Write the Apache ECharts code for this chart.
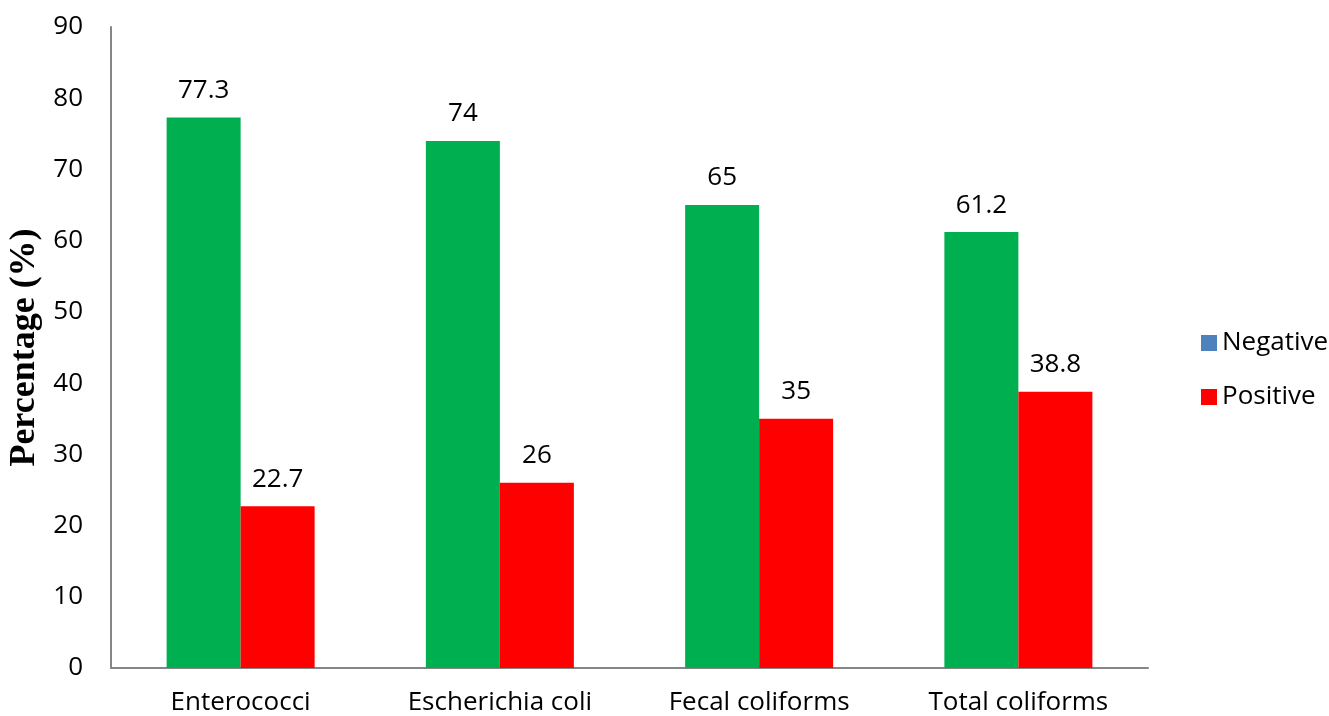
<!DOCTYPE html>
<html>
<head>
<meta charset="utf-8">
<script src="https://cdn.jsdelivr.net/npm/echarts@6/dist/echarts.min.js"></script>
<style>html,body{margin:0;padding:0;background:#fff}#c{width:1329px;height:716px}</style>
</head>
<body>
<div id="c"></div>
<script>
const categories = ['Enterococci', 'Escherichia coli', 'Fecal coliforms', 'Total coliforms'];
const negativeValues = [77.3, 74, 65, 61.2];
const positiveValues = [22.7, 26, 35, 38.8];
const yTicks = [0, 10, 20, 30, 40, 50, 60, 70, 80, 90];

const chart = echarts.init(document.getElementById('c'));
const font = '"Open Sans", "Noto Sans", sans-serif';
chart.setOption({
  animation: false,
  grid: { left: 111, right: 181, top: 27, bottom: 48, containLabel: false, outerBoundsMode: 'none' },
  legend: {
    orient: 'vertical',
    left: 1196,
    top: 325,
    itemWidth: 16,
    itemHeight: 16,
    itemGap: 28,
    icon: 'rect',
    textStyle: { fontFamily: font, fontSize: 26, color: '#000' },
    data: [
      { name: 'Negative', itemStyle: { color: '#4F81BD' } },
      { name: 'Positive', itemStyle: { color: '#FF0000' } }
    ]
  },
  xAxis: {
    type: 'category',
    data: categories,
    axisLine: { lineStyle: { color: '#868686', width: 2 } },
    axisTick: { show: false },
    axisLabel: { fontFamily: font, fontSize: 26, color: '#000', margin: 22 }
  },
  yAxis: {
    type: 'value',
    min: yTicks[0],
    max: yTicks[yTicks.length - 1],
    interval: 10,
    name: 'Percentage (%)',
    nameLocation: 'middle',
    nameGap: 63,
    nameRotate: 90,
    nameTextStyle: { fontFamily: '"Liberation Serif", serif', fontWeight: 'bold', fontSize: 36, color: '#000' },
    axisLine: { show: true, lineStyle: { color: '#868686', width: 2 } },
    axisTick: { show: false },
    splitLine: { show: false },
    axisLabel: { fontFamily: font, fontSize: 26, color: '#000', margin: 28 }
  },
  series: [
    {
      name: 'Negative', type: 'bar', data: negativeValues, barWidth: 74, barGap: '0%',
      itemStyle: { color: '#00B050' },
      label: { show: true, position: 'top', distance: 14, fontFamily: font, fontSize: 26, color: '#000' }
    },
    {
      name: 'Positive', type: 'bar', data: positiveValues, barWidth: 74, barGap: '0%',
      itemStyle: { color: '#FF0000' },
      label: { show: true, position: 'top', distance: 14, fontFamily: font, fontSize: 26, color: '#000' }
    }
  ]
});
</script>
</body>
</html>
